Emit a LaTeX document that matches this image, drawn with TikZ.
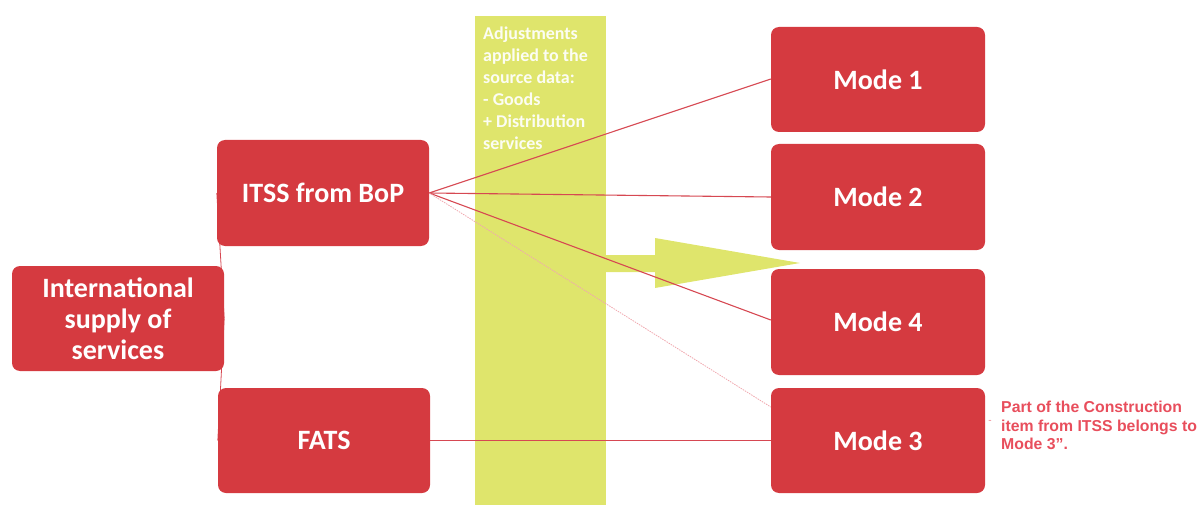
\documentclass[tikz,border=0pt]{standalone}
\usepackage{fontspec}
\setmainfont{Carlito}
\newfontfamily\notefont{Liberation Sans}
\definecolor{boxred}{RGB}{213,58,64}
\definecolor{barlime}{RGB}{223,229,108}
\definecolor{linkred}{RGB}{214,72,82}
\definecolor{linkpale}{RGB}{240,168,175}
\definecolor{notered}{RGB}{232,78,92}
\pgfdeclarelayer{links}
\pgfsetlayers{links,main}
\tikzset{
  redbox/.style={fill=boxred, draw=none, rounded corners=8pt, text=white,
    font=\fontsize{28}{31}\selectfont\bfseries, align=center, inner sep=0pt},
  sidebox/.style={redbox, minimum width=212pt, minimum height=105pt},
  modebox/.style={redbox, minimum width=214pt, minimum height=105pt},
  link/.style={draw=linkred, line width=1.1pt},
  palelink/.style={draw=linkpale, line width=0.8pt, dash pattern=on 1.5pt off 1pt},
}
\begin{document}
\begin{tikzpicture}[x=1pt, y=-1pt]
  \useasboundingbox (0,0) rectangle (1204,505);

  % adjustment band and the arrow leaving it
  \begin{pgfonlayer}{links}
    \fill[barlime] (475,16) rectangle (606,505);
    \fill[barlime] (606,255) -- (655,255) -- (655,238) -- (800,263)
      -- (655,288) -- (655,272) -- (606,272) -- cycle;
  \end{pgfonlayer}
  \node[anchor=north west, text=white!92!barlime, align=left, inner sep=0pt,
    font=\fontsize{18}{22}\selectfont\bfseries] (adj) at (483,27)
    {Adjustments\\applied to the\\source data:\\- Goods\\+ Distribution\\services};

  % boxes
  \node[sidebox] (intl) at (118,318.5) {International\\supply of\\services};
  \node[sidebox, minimum height=106pt] (itss) at (323,193) {ITSS from BoP};
  \node[sidebox] (fats) at (324,440.5) {FATS};
  \node[modebox] (m1) at (878,79.5) {Mode 1};
  \node[modebox, minimum height=106pt] (m2) at (878,197) {Mode 2};
  \node[modebox, minimum height=106pt] (m4) at (878,322) {Mode 4};
  \node[modebox] (m3) at (878,440.5) {Mode 3};

  % connectors, kept under the boxes
  \begin{pgfonlayer}{links}
    \draw[link, line width=0.8pt] (itss.west) -- (intl.east);
    \draw[link, line width=0.8pt] (fats.west) -- (intl.east);
  \end{pgfonlayer}
  \draw[link] (itss.east) -- (m1.west |- 0,79);
  \draw[link] (itss.east) -- (m2.west);
  \draw[link] (itss.east) -- (m4.west |- 0,320);
  \draw[palelink] (itss.east) -- (m3.west |- 0,407);
  \draw[link] (fats.east) -- (m3.west);

  % note beside Mode 3
  \node[anchor=north west, text=notered, align=left, inner sep=0pt,
    font=\notefont\fontsize{15.8}{18.5}\selectfont\bfseries] (note) at (1001,401)
    {Part of the Construction\\item from ITSS belongs to\\Mode 3”.};
  \node[text=notered!70, inner sep=0pt, font=\notefont\fontsize{10}{10}\selectfont] (dash)
    at (990,422) {-};
\end{tikzpicture}
\end{document}
